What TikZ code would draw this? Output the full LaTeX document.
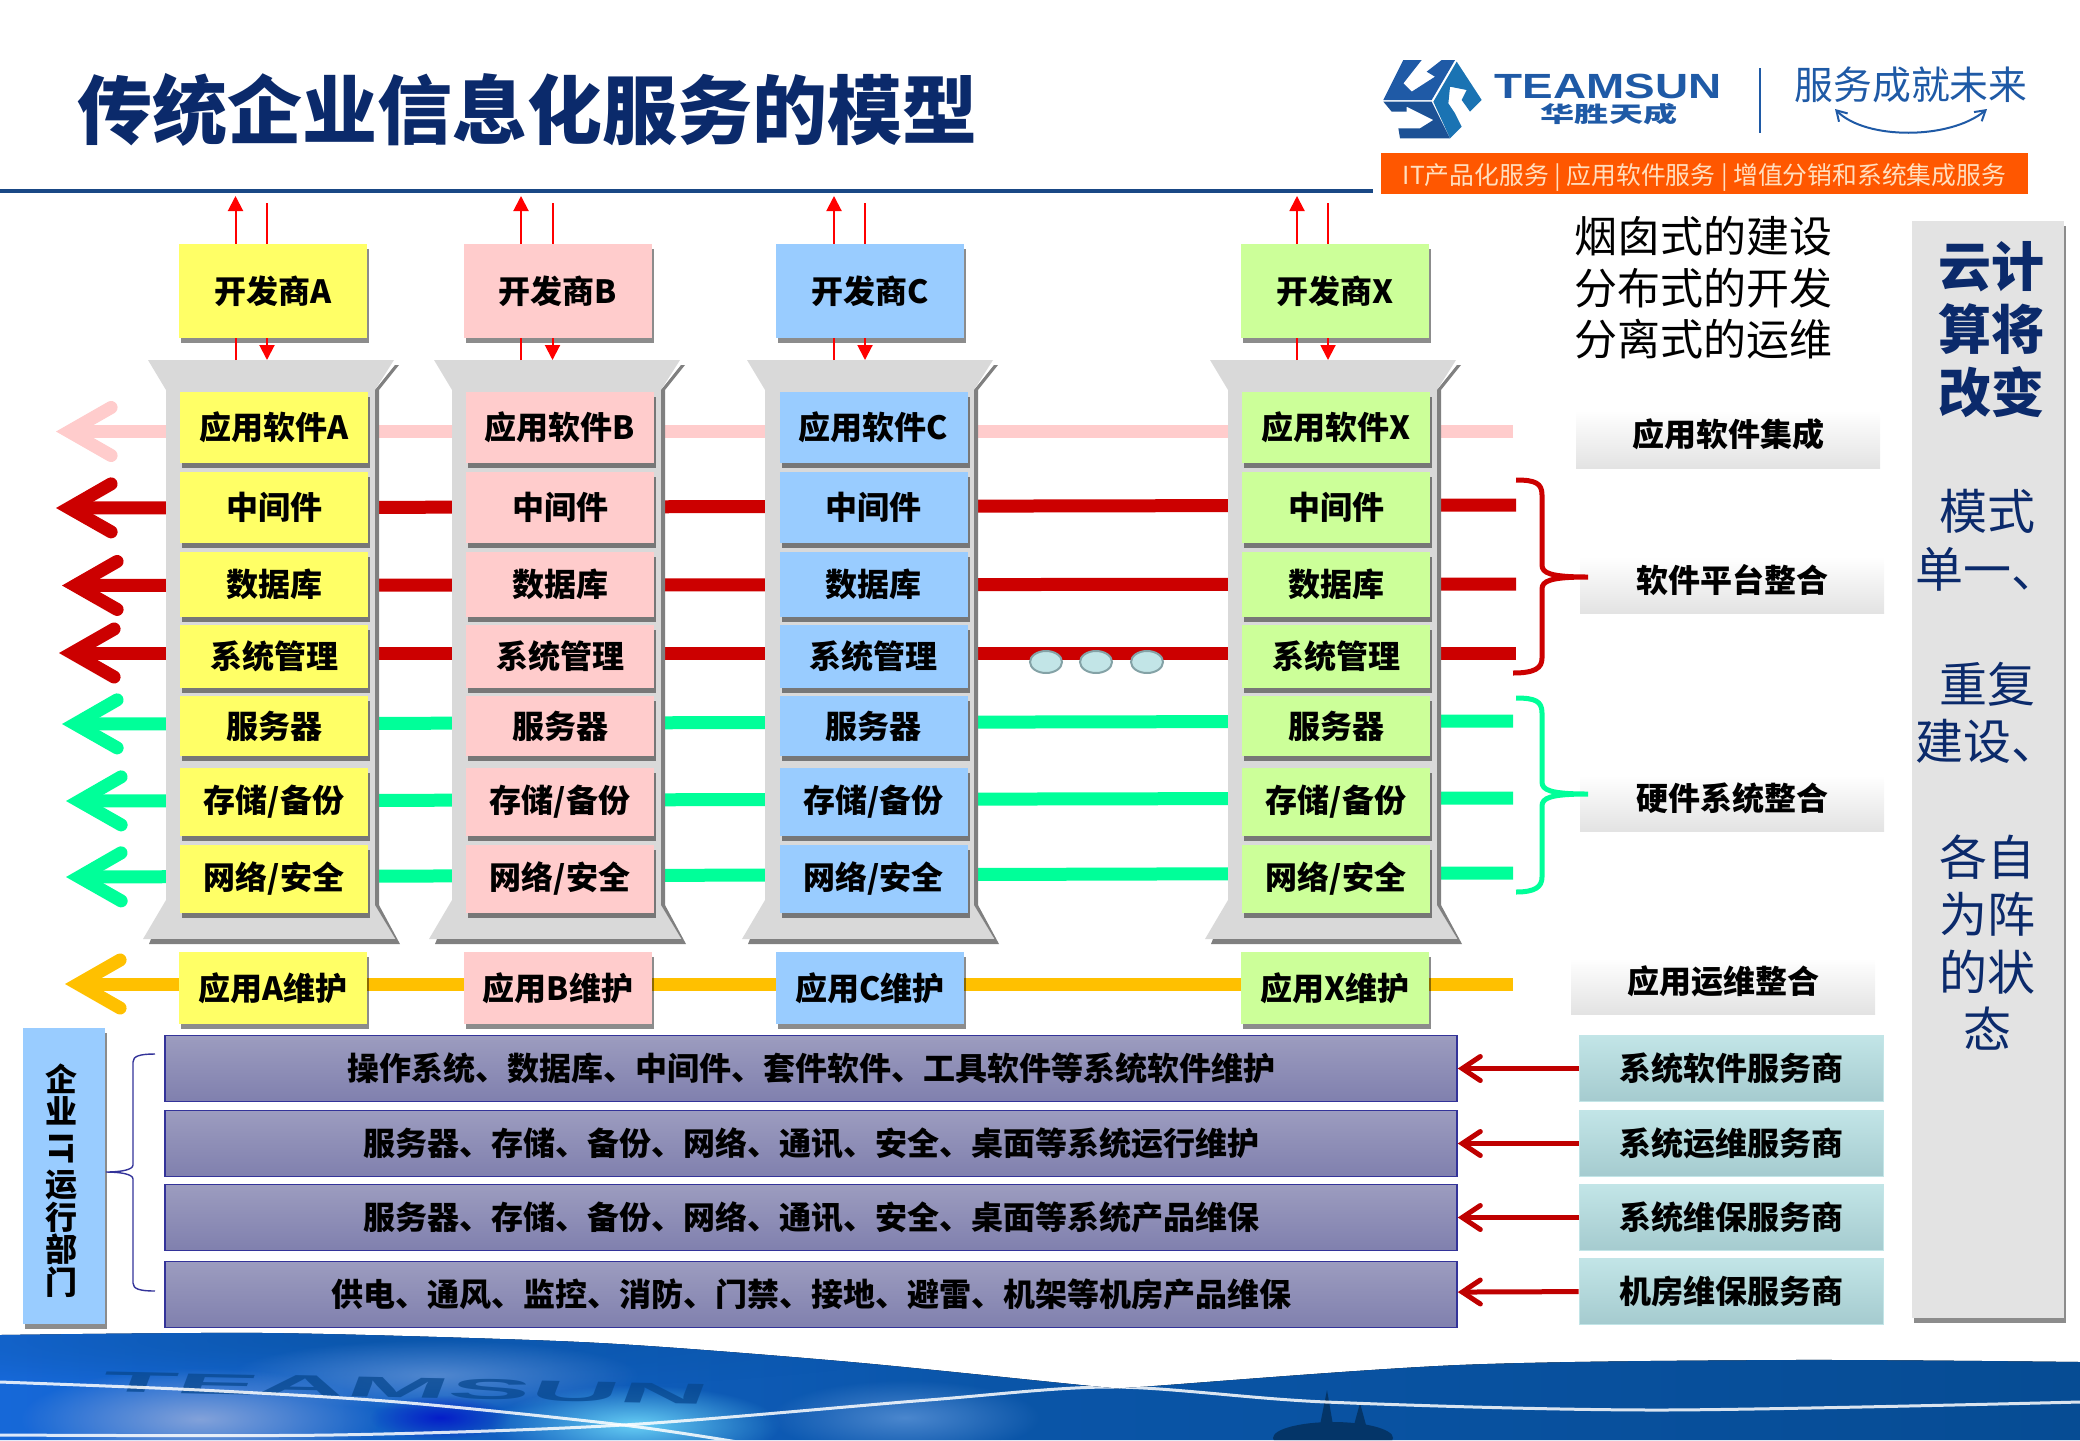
\documentclass[tikz,border=0pt]{standalone}
\usepackage{fontspec}
\newfontfamily\cjkfont{Noto Sans CJK SC}
\newfontfamily\logofont{Liberation Sans}
\usetikzlibrary{arrows.meta,shadows,shapes.geometric,fadings}
\definecolor{devyellow}{HTML}{FFFF66}
\definecolor{devpink}{HTML}{FFCCCC}
\definecolor{devblue}{HTML}{99CCFF}
\definecolor{devgreen}{HTML}{CCFF99}
\definecolor{navytext}{HTML}{0B2A6B}
\definecolor{logoblue}{HTML}{1F5AA6}
\definecolor{linered}{HTML}{CC0000}
\definecolor{linegreen}{HTML}{00FF99}
\definecolor{lineorange}{HTML}{FFC000}
\definecolor{barblue}{HTML}{333399}
\definecolor{bartop}{HTML}{9C9CBF}
\definecolor{barlow}{HTML}{8080AE}
\definecolor{vendortop}{HTML}{C2E5E7}
\definecolor{vendorlow}{HTML}{A5CBCF}
\definecolor{bandleft}{HTML}{1668D8}
\definecolor{bandmid}{HTML}{0A55A8}
\definecolor{bandright}{HTML}{064C94}
\tikzfading[name=softblob, inner color=transparent!0, outer color=transparent!100]
\tikzset{
  boxshadow/.style={drop shadow={shadow xshift=1pt, shadow yshift=-2.5pt, fill=black, opacity=.45}},
  softbox/.style={rectangle, minimum width=94pt, boxshadow},
  devbox/.style={softbox, minimum height=47pt},
  keepbox/.style={softbox, minimum height=36pt},
  layerline/.style={line width=6.5pt, -{Straight Barb[length=21pt, width=24pt, line cap=round, line join=miter]}},
  flowup/.style={draw=red, line width=1pt, -{Triangle[length=7.5pt, width=7.5pt]}},
  flowline/.style={draw=red, line width=1pt},
  taglabel/.style={rectangle, minimum width=152pt, minimum height=28pt, text depth=6.5pt, top color=white, middle color=white, bottom color=black!11},
  maintbar/.style={rectangle, draw=barblue, line width=.8pt, minimum width=646pt, minimum height=33pt, top color=bartop, bottom color=barlow},
  vendorbox/.style={rectangle, draw=vendortop, line width=.5pt, minimum width=152pt, minimum height=33pt, top color=vendortop, middle color=vendortop, bottom color=vendorlow},
  servicearrow/.style={line width=2.5pt, draw=red!75!black, -{Straight Barb[length=9pt, width=12pt, line cap=round, line join=miter]}},
  bracered/.style={draw=linered, line width=2.5pt},
  bracegreen/.style={draw=linegreen, line width=2.5pt},
  dotmark/.style={ellipse, draw=vendorlow!80!black, line width=1pt, fill=vendortop, minimum width=16pt, minimum height=11pt},
  pillar/.pic={
    \fill[black!15] (-33,360) -- (213,360) -- (194,390) -- (194,905) -- (214.5,939) -- (-38,939) -- (-15,900) -- (-15,390) -- cycle;
    \fill[black!50] (214,365) -- (218,365) -- (198,390) -- (198,905) -- (219,944) -- (-32,944) -- (-30,939) -- (214.5,939) -- (194,905) -- (194,390) -- cycle;
  }
}
\begin{document}
\begin{tikzpicture}[x=.5pt, y=-.5pt, every node/.style={inner sep=0pt, align=center, font=\cjkfont\bfseries\fontsize{16pt}{18pt}\selectfont}]
\useasboundingbox (0,0) rectangle (2080,1440);

\begin{scope}
  \clip plot[smooth] coordinates {(0,1335) (265,1333) (530,1340) (663,1347) (862,1363) (1101,1387) (1120,1388) (1140,1387) (1459,1365) (1790,1360) (2080,1362)} -- (2080,1440) -- (0,1440) -- cycle;
  \fill[left color=bandleft, right color=bandmid] (0,1325) rectangle (1000,1440);
  \fill[left color=bandmid, right color=bandright] (1000,1325) rectangle (2080,1440);
  \fill[bandmid, opacity=.85, path fading=softblob] (-200,1290) rectangle (950,1390);
  \fill[cyan!45!blue!50!white, path fading=softblob] (20,1368) rectangle (380,1470);
  \fill[cyan!60!white, path fading=softblob] (490,1385) rectangle (780,1465);
  \fill[cyan!50!blue!75, path fading=softblob] (770,1380) rectangle (1040,1455);
  \fill[cyan!50!blue!65, opacity=.8, path fading=softblob] (230,1340) rectangle (640,1410);
  \fill[blue!80!black, opacity=.7, path fading=softblob] (370,1395) rectangle (510,1440);
  \node[font=\logofont\bfseries\fontsize{22pt}{22pt}\selectfont, text=bandmid!85!black, opacity=.75, xscale=2.8, yscale=.65, rotate=-5] (bandword) at (405,1388) {TEAMSUN};
  \fill[bandright!70!black] (1333,1438) ellipse (60 and 16);
  \fill[bandright!70!black] (1320,1425) -- (1327,1390) -- (1333,1425) -- cycle;
  \fill[bandright!70!black] (1354,1425) -- (1360,1403) -- (1366,1425) -- cycle;
  \draw[white, opacity=.85, line width=1.5pt] plot[smooth] coordinates {(0,1382) (200,1390) (398,1402) (623,1425) (756,1445)};
  \draw[white, opacity=.85, line width=1.5pt] plot[smooth] coordinates {(0,1435) (332,1435) (623,1425) (928,1400) (1114,1387) (1326,1402) (1658,1410) (2080,1402)};
\end{scope}

\node[font=\cjkfont\bfseries\fontsize{37.5pt}{40pt}\selectfont, text=navytext, anchor=west] (title) at (77,110) {传统企业信息化服务的模型};
\fill[logoblue!80!black] (0,189) rectangle (1373,193);

\begin{scope}[shift={(1370,50)}, x=.1667pt, y=-.1667pt]
  \fill[logoblue] (100,30) -- (155,30) -- (100,100) -- (125,125) -- (195,80) -- (170,65) -- (215,30) -- (255,30) -- (185,150) -- (40,150) -- cycle;
  \fill[logoblue!85!cyan] (260,35) -- (335,150) -- (300,185) -- (275,150) -- (290,120) -- (240,110) -- (235,160) -- (255,190) -- (275,230) -- (240,265) -- (190,155) -- cycle;
  \fill[logoblue!90!black] (40,155) -- (185,155) -- (240,265) -- (90,265) -- (85,235) -- (150,235) -- (190,210) -- (110,170) -- (110,185) -- (65,185) -- cycle;
\end{scope}
\node[font=\logofont\bfseries\fontsize{17.5pt}{18pt}\selectfont, text=logoblue, xscale=1.31] (teamword) at (1608,86) {TEAMSUN};
\node[font=\cjkfont\bfseries\fontsize{11pt}{12pt}\selectfont, text=logoblue, xscale=1.55] (teamcn) at (1609,114) {华胜天成};
\node[font=\cjkfont\fontsize{19.4pt}{20pt}\selectfont, text=logoblue] (motto) at (1911,85) {服务成就未来};
\coordinate (mottoL) at (1835,109);
\coordinate (mottoR) at (1987,109);
\draw[logoblue, line width=1pt, {Straight Barb[length=5pt, width=6pt]}-{Straight Barb[length=5pt, width=6pt]}] (mottoL) .. controls (1865,140) and (1950,140) .. (mottoR);
\coordinate (logoT) at (1760,68);
\coordinate (logoB) at (1760,133);
\draw[logoblue, line width=1pt] (logoT) -- (logoB);
\node[rectangle, fill=orange!35!red!80!yellow, minimum width=323.5pt, minimum height=20.5pt, text height=14.5pt, font=\cjkfont\fontsize{12.4pt}{13pt}\selectfont, text=orange!25!white] (serviceband) at (1704.5,173.5) {IT产品化服务 | 应用软件服务 | 增值分销和系统集成服务};

\node[font=\cjkfont\fontsize{21.5pt}{25.75pt}\selectfont, align=left, anchor=west] (slogan) at (1574,288) {烟囱式的建设\\分布式的开发\\分离式的运维};

\node[rectangle, fill=black!11, minimum width=76pt, minimum height=548.5pt, boxshadow] (cloudpanel) at (1988,769.5) {};
\node[font=\cjkfont\bfseries\fontsize{26.5pt}{31.5pt}\selectfont, text=navytext] (cloudhead) at (1991,330) {云计\\算将\\改变};
\node[font=\cjkfont\fontsize{24pt}{28.8pt}\selectfont, text=navytext] (cloudbody) at (1987,770) {模式\\单一、\\\mbox{}\\重复\\建设、\\\mbox{}\\各自\\为阵\\的状\\态};

\coordinate (tipApp) at (56,431.5);
\coordinate (endApp) at (1513,431.5);
\coordinate (tipMid) at (56,508);
\coordinate (endMid) at (1516,505);
\coordinate (tipDb) at (62,585.5);
\coordinate (endDb) at (1516,584);
\coordinate (tipSys) at (59,653);
\coordinate (endSys) at (1516,653);
\coordinate (tipSrv) at (62,724);
\coordinate (endSrv) at (1513,721);
\coordinate (tipSto) at (66,801);
\coordinate (endSto) at (1513,798);
\coordinate (tipNet) at (66,877);
\coordinate (endNet) at (1513,873);
\coordinate (tipOps) at (65,984);
\coordinate (endOps) at (1513,984);
\draw[layerline, devpink] (endApp) -- (tipApp);
\draw[layerline, linered] (endMid) -- (tipMid);
\draw[layerline, linered] (endDb) -- (tipDb);
\draw[layerline, linered] (endSys) -- (tipSys);
\draw[layerline, linegreen] (endSrv) -- (tipSrv);
\draw[layerline, linegreen] (endSto) -- (tipSto);
\draw[layerline, linegreen] (endNet) -- (tipNet);
\draw[layerline, lineorange] (endOps) -- (tipOps);

\pic at (181,0) {pillar};
\pic at (467,0) {pillar};
\pic at (780,0) {pillar};
\pic at (1243,0) {pillar};

\node[dotmark] (dotA) at (1046,662) {};
\node[dotmark] (dotB) at (1096,662) {};
\node[dotmark] (dotC) at (1147,662) {};

\node[devbox, fill=devyellow] (devA) at (273,291) {开发商A};
\node[devbox, fill=devpink] (devB) at (558,291) {开发商B};
\node[devbox, fill=devblue] (devC) at (870,291) {开发商C};
\node[devbox, fill=devgreen] (devX) at (1334.5,291) {开发商X};

\node[softbox, minimum height=35.5pt, fill=devyellow] (appA) at (274,427.5) {应用软件A};
\node[softbox, minimum height=35.5pt, fill=devyellow] (midA) at (274,507.5) {中间件};
\node[softbox, minimum height=32.5pt, fill=devyellow] (dbA) at (274,584.5) {数据库};
\node[softbox, minimum height=31.5pt, fill=devyellow] (sysA) at (274,656.5) {系统管理};
\node[softbox, minimum height=30pt, fill=devyellow] (srvA) at (274,726) {服务器};
\node[softbox, minimum height=34pt, fill=devyellow] (stoA) at (274,801.5) {存储/备份};
\node[softbox, minimum height=34pt, fill=devyellow] (netA) at (274,878.5) {网络/安全};

\node[softbox, minimum height=35.5pt, fill=devpink] (appB) at (560,427.5) {应用软件B};
\node[softbox, minimum height=35.5pt, fill=devpink] (midB) at (560,507.5) {中间件};
\node[softbox, minimum height=32.5pt, fill=devpink] (dbB) at (560,584.5) {数据库};
\node[softbox, minimum height=31.5pt, fill=devpink] (sysB) at (560,656.5) {系统管理};
\node[softbox, minimum height=30pt, fill=devpink] (srvB) at (560,726) {服务器};
\node[softbox, minimum height=34pt, fill=devpink] (stoB) at (560,801.5) {存储/备份};
\node[softbox, minimum height=34pt, fill=devpink] (netB) at (560,878.5) {网络/安全};

\node[softbox, minimum height=35.5pt, fill=devblue] (appC) at (873.5,427.5) {应用软件C};
\node[softbox, minimum height=35.5pt, fill=devblue] (midC) at (873.5,507.5) {中间件};
\node[softbox, minimum height=32.5pt, fill=devblue] (dbC) at (873.5,584.5) {数据库};
\node[softbox, minimum height=31.5pt, fill=devblue] (sysC) at (873.5,656.5) {系统管理};
\node[softbox, minimum height=30pt, fill=devblue] (srvC) at (873.5,726) {服务器};
\node[softbox, minimum height=34pt, fill=devblue] (stoC) at (873.5,801.5) {存储/备份};
\node[softbox, minimum height=34pt, fill=devblue] (netC) at (873.5,878.5) {网络/安全};

\node[softbox, minimum height=35.5pt, fill=devgreen] (appX) at (1336,427.5) {应用软件X};
\node[softbox, minimum height=35.5pt, fill=devgreen] (midX) at (1336,507.5) {中间件};
\node[softbox, minimum height=32.5pt, fill=devgreen] (dbX) at (1336,584.5) {数据库};
\node[softbox, minimum height=31.5pt, fill=devgreen] (sysX) at (1336,656.5) {系统管理};
\node[softbox, minimum height=30pt, fill=devgreen] (srvX) at (1336,726) {服务器};
\node[softbox, minimum height=34pt, fill=devgreen] (stoX) at (1336,801.5) {存储/备份};
\node[softbox, minimum height=34pt, fill=devgreen] (netX) at (1336,878.5) {网络/安全};

\node[keepbox, fill=devyellow] (keepA) at (273,988) {应用A维护};
\node[keepbox, fill=devpink] (keepB) at (558,988) {应用B维护};
\node[keepbox, fill=devblue] (keepC) at (870,988) {应用C维护};
\node[keepbox, fill=devgreen] (keepX) at (1334.5,988) {应用X维护};

\coordinate (outA) at (235.5,196);
\coordinate (inA) at (267,203);
\coordinate (padA) at (235.5,360);
\coordinate (dropA) at (267,360);
\coordinate (outB) at (521,196);
\coordinate (inB) at (552.5,203);
\coordinate (padB) at (521,360);
\coordinate (dropB) at (552.5,360);
\coordinate (outC) at (834,196);
\coordinate (inC) at (865,203);
\coordinate (padC) at (834,360);
\coordinate (dropC) at (865,360);
\coordinate (outX) at (1297,196);
\coordinate (inX) at (1328,203);
\coordinate (padX) at (1297,360);
\coordinate (dropX) at (1328,360);
\draw[flowup] (outA |- devA.north) -- (outA);
\draw[flowline] (inA) -- (inA |- devA.north);
\draw[flowline] (padA) -- (padA |- devA.south);
\draw[flowup] (dropA |- devA.south) -- (dropA);
\draw[flowup] (outB |- devB.north) -- (outB);
\draw[flowline] (inB) -- (inB |- devB.north);
\draw[flowline] (padB) -- (padB |- devB.south);
\draw[flowup] (dropB |- devB.south) -- (dropB);
\draw[flowup] (outC |- devC.north) -- (outC);
\draw[flowline] (inC) -- (inC |- devC.north);
\draw[flowline] (padC) -- (padC |- devC.south);
\draw[flowup] (dropC |- devC.south) -- (dropC);
\draw[flowup] (outX |- devX.north) -- (outX);
\draw[flowline] (inX) -- (inX |- devX.north);
\draw[flowline] (padX) -- (padX |- devX.south);
\draw[flowup] (dropX |- devX.south) -- (dropX);

\node[taglabel, minimum height=29pt] (tagApp) at (1728,439) {应用软件集成};
\node[taglabel] (tagSoft) at (1732,585) {软件平台整合};
\node[taglabel] (tagHard) at (1732,803) {硬件系统整合};
\node[taglabel] (tagOps) at (1723,986) {应用运维整合};

\draw[bracered] (1516,480) .. controls (1535,480) and (1542,483) .. (1542,495) -- (1542,565) .. controls (1542,573) and (1550,577) .. (1588,577) .. controls (1550,577) and (1542,581) .. (1542,589) -- (1542,658) .. controls (1542,668) and (1535,673) .. (1513,673);
\draw[bracegreen] (1516,698) .. controls (1535,698) and (1542,701) .. (1542,713) -- (1542,782) .. controls (1542,790) and (1550,794) .. (1588,794) .. controls (1550,794) and (1542,798) .. (1542,806) -- (1542,877) .. controls (1542,887) and (1535,892) .. (1516,892);

\node[rectangle, fill=devblue, minimum width=41pt, minimum height=148pt, boxshadow] (itdept) at (63.5,1176) {};
\node[font=\cjkfont\bfseries\fontsize{16pt}{14.5pt}\selectfont] (itdepttext) at (61,1181) {企\\业\\[-10pt]\rotatebox{-90}{IT}\\[2pt]运\\行\\部\\门};

\node[maintbar] (barSoft) at (811,1068.5) {操作系统、数据库、中间件、套件软件、工具软件等系统软件维护};
\node[maintbar] (barRun) at (811,1143.5) {服务器、存储、备份、网络、通讯、安全、桌面等系统运行维护};
\node[maintbar] (barKeep) at (811,1217.5) {服务器、存储、备份、网络、通讯、安全、桌面等系统产品维保};
\node[maintbar] (barRoom) at (811,1294.5) {供电、通风、监控、消防、门禁、接地、避雷、机架等机房产品维保};

\node[vendorbox] (svcSoft) at (1731,1068.5) {系统软件服务商};
\node[vendorbox] (svcRun) at (1731,1143.5) {系统运维服务商};
\node[vendorbox] (svcKeep) at (1731,1217.5) {系统维保服务商};
\node[vendorbox] (svcRoom) at (1731,1291) {机房维保服务商};

\draw[servicearrow] (svcSoft) -- (barSoft);
\draw[servicearrow] (svcRun) -- (barRun);
\draw[servicearrow] (svcKeep) -- (barKeep);
\draw[servicearrow] (svcRoom) -- (barRoom);

\coordinate (deptEnd) at (106,1172);
\coordinate (bracketTop) at (155,1054);
\coordinate (bracketLow) at (155,1291);
\draw[barblue, line width=.7pt] (bracketTop) .. controls (140,1054) and (133,1056) .. (133,1062) -- (133,1165) .. controls (133,1170) and (120,1172) .. (deptEnd) .. controls (120,1172) and (133,1174) .. (133,1179) -- (133,1283) .. controls (133,1289) and (140,1291) .. (bracketLow);
\end{tikzpicture}
\end{document}
